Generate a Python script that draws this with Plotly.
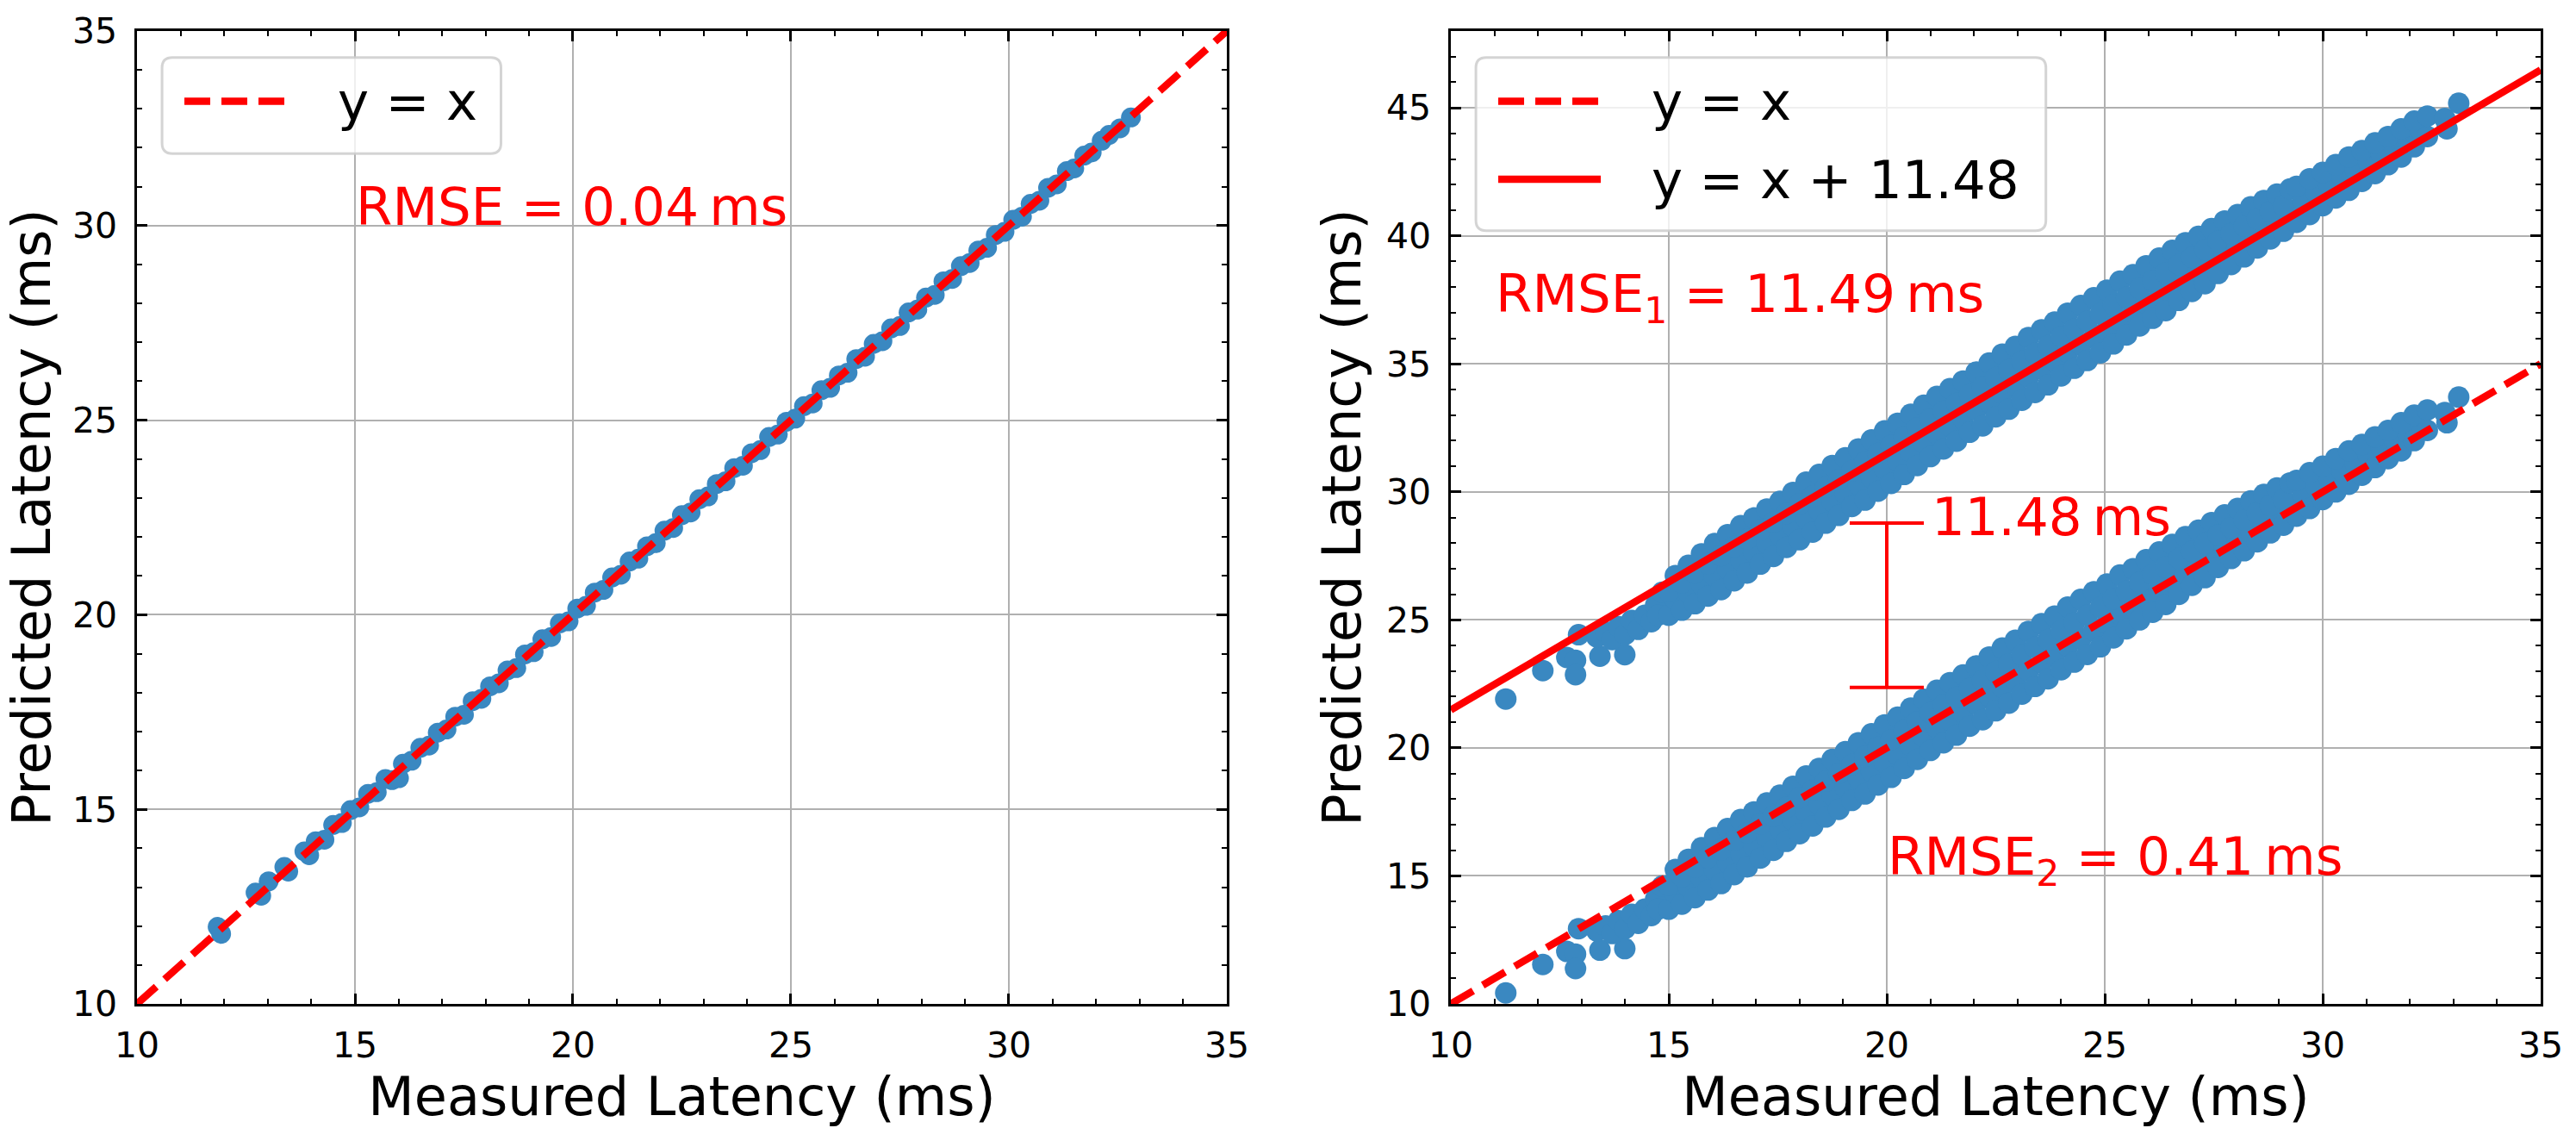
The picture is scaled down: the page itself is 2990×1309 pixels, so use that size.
import plotly.graph_objects as go
from plotly.subplots import make_subplots

FONT = "DejaVu Sans"
BLUE = "#3a88c1"
RED = "#ff0000"

# ---- left panel: measured vs predicted latency (ms) ----
left_measured = [
    11.85, 11.93, 12.72, 12.85, 13.02, 13.38, 13.47, 13.84, 13.95, 14.1,
    14.3, 14.5, 14.7, 14.9, 15.1, 15.3, 15.5, 15.7, 15.85, 16.01,
    16.1, 16.3, 16.5, 16.7, 16.9, 17.1, 17.3, 17.5, 17.7, 17.9,
    18.1, 18.3, 18.5, 18.7, 18.9, 19.1, 19.3, 19.5, 19.7, 19.9,
    20.1, 20.3, 20.5, 20.7, 20.9, 21.1, 21.3, 21.5, 21.7, 21.9,
    22.1, 22.3, 22.5, 22.7, 22.9, 23.1, 23.3, 23.5, 23.7, 23.9,
    24.1, 24.3, 24.5, 24.7, 24.9, 25.1, 25.3, 25.5, 25.7, 25.9,
    26.1, 26.3, 26.5, 26.7, 26.9, 27.1, 27.3, 27.5, 27.7, 27.9,
    28.1, 28.3, 28.5, 28.7, 28.9, 29.1, 29.3, 29.5, 29.7, 29.9,
    30.1, 30.3, 30.5, 30.7, 30.9, 31.1, 31.33, 31.5, 31.73, 31.9,
    32.13, 32.3, 32.55, 32.8,
]
left_predicted = [
    11.98, 11.8, 12.86, 12.78, 13.15, 13.52, 13.4, 13.92, 13.82, 14.18,
    14.22, 14.6, 14.65, 14.98, 15.05, 15.4, 15.44, 15.78, 15.75, 15.8,
    16.17, 16.25, 16.58, 16.64, 16.97, 17.05, 17.38, 17.43, 17.78, 17.84,
    18.16, 18.24, 18.57, 18.63, 18.98, 19.04, 19.37, 19.43, 19.78, 19.83,
    20.16, 20.23, 20.57, 20.64, 20.96, 21.03, 21.37, 21.44, 21.76, 21.84,
    22.16, 22.23, 22.56, 22.63, 22.97, 23.04, 23.36, 23.43, 23.77, 23.83,
    24.15, 24.23, 24.57, 24.63, 24.96, 25.04, 25.36, 25.43, 25.77, 25.83,
    26.15, 26.22, 26.57, 26.63, 26.96, 27.03, 27.36, 27.42, 27.77, 27.84,
    28.15, 28.22, 28.57, 28.63, 28.96, 29.04, 29.36, 29.43, 29.76, 29.84,
    30.15, 30.23, 30.56, 30.64, 30.97, 31.06, 31.4, 31.47, 31.8, 31.88,
    32.18, 32.33, 32.5, 32.78,
]

# ---- right panel: same measurements, raw and bias-corrected predictions ----
right_measured = [
    11.26, 12.11, 12.66, 12.86, 12.86, 12.93, 13.42, 13.99, 13.35, 13.55,
    13.7, 13.85, 14.0, 14.15, 14.3, 14.45, 14.6, 14.7, 14.75, 14.85,
    15.0, 15.15, 15.0, 15.15,
    15.3, 15.45, 15.3, 15.45,
    15.6, 15.75, 15.6, 15.75,
    15.9, 16.05, 15.9, 16.05,
    16.2, 16.35, 16.2, 16.35,
    16.5, 16.65, 16.5, 16.65,
    16.8, 16.95, 16.8, 16.95,
    17.1, 17.25, 17.1, 17.25,
    17.4, 17.55, 17.4, 17.55,
    17.7, 17.85, 17.7, 17.85,
    18.0, 18.15, 18.0, 18.15,
    18.3, 18.45, 18.3, 18.45,
    18.6, 18.75, 18.6, 18.75,
    18.9, 19.05, 18.9, 19.05,
    19.2, 19.35, 19.2, 19.35,
    19.5, 19.65, 19.5, 19.65,
    19.8, 19.95, 19.8, 19.95,
    20.1, 20.25, 20.1, 20.25,
    20.4, 20.55, 20.4, 20.55,
    20.7, 20.85, 20.7, 20.85,
    21.0, 21.15, 21.0, 21.15,
    21.3, 21.45, 21.3, 21.45,
    21.6, 21.75, 21.6, 21.75,
    21.9, 22.05, 21.9, 22.05,
    22.2, 22.35, 22.2, 22.35,
    22.5, 22.65, 22.5, 22.65,
    22.8, 22.95, 22.8, 22.95,
    23.1, 23.25, 23.1, 23.25,
    23.4, 23.55, 23.4, 23.55,
    23.7, 23.85, 23.7, 23.85,
    24.0, 24.15, 24.0, 24.15,
    24.3, 24.45, 24.3, 24.45,
    24.6, 24.75, 24.6, 24.75,
    24.9, 25.05, 24.9, 25.05,
    25.2, 25.35, 25.2, 25.35,
    25.5, 25.65, 25.5, 25.65,
    25.8, 25.95, 25.8, 25.95,
    26.1, 26.25, 26.1, 26.25,
    26.4, 26.55, 26.4, 26.55,
    26.7, 26.85, 26.7, 26.85,
    27.0, 27.15, 27.0, 27.15,
    27.3, 27.45, 27.3, 27.45,
    27.6, 27.75, 27.6, 27.75,
    27.9, 28.05, 27.9, 28.05,
    28.2, 28.35, 28.2, 28.35,
    28.5, 28.65, 28.5, 28.65,
    28.8, 28.95, 28.8, 28.95,
    29.1, 29.25, 29.1, 29.25,
    29.4, 29.55, 29.4,
    29.7, 29.85, 29.7,
    30.0, 30.15, 30.0,
    30.3, 30.45, 30.3,
    30.6, 30.75, 30.6,
    30.9, 31.05, 30.9,
    31.2, 31.35, 31.2,
    31.5, 31.65, 31.5,
    31.8, 31.95, 31.8,
    32.1, 32.25, 32.1,
    32.4, 32.4, 32.85, 32.8, 33.12,
]
right_pred_raw = [
    21.91, 23.02, 23.53, 23.42, 22.86, 24.42, 23.58, 23.64, 24.33, 24.53,
    24.23, 24.73, 24.43, 24.98, 24.63, 25.18, 24.93, 25.58, 25.18, 26.08,
    25.18, 25.8, 26.11, 26.73,
    25.38, 26.06, 26.45, 27.13,
    25.63, 26.38, 26.83, 27.58,
    25.93, 26.71, 27.2, 27.98,
    26.18, 27.0, 27.51, 28.33,
    26.53, 27.35, 27.86, 28.68,
    26.83, 27.65, 28.16, 28.98,
    27.18, 28.0, 28.51, 29.33,
    27.48, 28.3, 28.81, 29.63,
    27.83, 28.65, 29.16, 29.98,
    28.13, 28.98, 29.53, 30.38,
    28.43, 29.28, 29.83, 30.68,
    28.78, 29.63, 30.18, 31.03,
    29.08, 29.93, 30.48, 31.33,
    29.43, 30.28, 30.83, 31.68,
    29.68, 30.56, 31.15, 32.03,
    30.03, 30.91, 31.5, 32.38,
    30.33, 31.21, 31.8, 32.68,
    30.68, 31.56, 32.15, 33.03,
    31.03, 31.91, 32.5, 33.38,
    31.38, 32.26, 32.85, 33.73,
    31.68, 32.56, 33.15, 34.03,
    31.98, 32.86, 33.45, 34.33,
    32.33, 33.21, 33.8, 34.68,
    32.58, 33.5, 34.11, 35.03,
    32.93, 33.85, 34.46, 35.38,
    33.23, 34.15, 34.76, 35.68,
    33.58, 34.5, 35.11, 36.03,
    33.88, 34.8, 35.41, 36.33,
    34.18, 35.1, 35.71, 36.63,
    34.53, 35.45, 36.06, 36.98,
    34.83, 35.75, 36.36, 37.28,
    35.13, 36.05, 36.66, 37.58,
    35.43, 36.35, 36.96, 37.88,
    35.78, 36.7, 37.31, 38.23,
    36.13, 37.01, 37.6, 38.48,
    36.48, 37.36, 37.95, 38.83,
    36.78, 37.66, 38.25, 39.13,
    37.08, 37.96, 38.55, 39.43,
    37.48, 38.33, 38.88, 39.73,
    37.83, 38.65, 39.16, 39.98,
    38.13, 38.95, 39.46, 40.28,
    38.53, 39.31, 39.8, 40.58,
    38.88, 39.63, 40.08, 40.83,
    39.18, 39.93, 40.38, 41.13,
    39.53, 40.25, 40.66, 41.38,
    39.88, 40.56, 40.95, 41.63,
    40.18, 40.83, 41.18, 41.83,
    40.53, 41.38, 41.93,
    40.83, 41.68, 42.23,
    41.18, 41.98, 42.48,
    41.48, 42.28, 42.78,
    41.78, 42.58, 43.08,
    42.13, 42.88, 43.33,
    42.43, 43.18, 43.63,
    42.78, 43.48, 43.88,
    43.08, 43.78, 44.18,
    43.48, 44.13, 44.48,
    43.88, 44.68, 44.18, 44.58, 45.18,
]
right_pred_corrected = [
    10.43, 11.54, 12.05, 11.94, 11.38, 12.94, 12.1, 12.16, 12.85, 13.05,
    12.75, 13.25, 12.95, 13.5, 13.15, 13.7, 13.45, 14.1, 13.7, 14.6,
    13.7, 14.32, 14.63, 15.25,
    13.9, 14.58, 14.97, 15.65,
    14.15, 14.9, 15.35, 16.1,
    14.45, 15.23, 15.72, 16.5,
    14.7, 15.52, 16.03, 16.85,
    15.05, 15.87, 16.38, 17.2,
    15.35, 16.17, 16.68, 17.5,
    15.7, 16.52, 17.03, 17.85,
    16.0, 16.82, 17.33, 18.15,
    16.35, 17.17, 17.68, 18.5,
    16.65, 17.5, 18.05, 18.9,
    16.95, 17.8, 18.35, 19.2,
    17.3, 18.15, 18.7, 19.55,
    17.6, 18.45, 19.0, 19.85,
    17.95, 18.8, 19.35, 20.2,
    18.2, 19.08, 19.67, 20.55,
    18.55, 19.43, 20.02, 20.9,
    18.85, 19.73, 20.32, 21.2,
    19.2, 20.08, 20.67, 21.55,
    19.55, 20.43, 21.02, 21.9,
    19.9, 20.78, 21.37, 22.25,
    20.2, 21.08, 21.67, 22.55,
    20.5, 21.38, 21.97, 22.85,
    20.85, 21.73, 22.32, 23.2,
    21.1, 22.02, 22.63, 23.55,
    21.45, 22.37, 22.98, 23.9,
    21.75, 22.67, 23.28, 24.2,
    22.1, 23.02, 23.63, 24.55,
    22.4, 23.32, 23.93, 24.85,
    22.7, 23.62, 24.23, 25.15,
    23.05, 23.97, 24.58, 25.5,
    23.35, 24.27, 24.88, 25.8,
    23.65, 24.57, 25.18, 26.1,
    23.95, 24.87, 25.48, 26.4,
    24.3, 25.22, 25.83, 26.75,
    24.65, 25.53, 26.12, 27.0,
    25.0, 25.88, 26.47, 27.35,
    25.3, 26.18, 26.77, 27.65,
    25.6, 26.48, 27.07, 27.95,
    26.0, 26.85, 27.4, 28.25,
    26.35, 27.17, 27.68, 28.5,
    26.65, 27.47, 27.98, 28.8,
    27.05, 27.83, 28.32, 29.1,
    27.4, 28.15, 28.6, 29.35,
    27.7, 28.45, 28.9, 29.65,
    28.05, 28.77, 29.18, 29.9,
    28.4, 29.08, 29.47, 30.15,
    28.7, 29.35, 29.7, 30.35,
    29.05, 29.9, 30.45,
    29.35, 30.2, 30.75,
    29.7, 30.5, 31.0,
    30.0, 30.8, 31.3,
    30.3, 31.1, 31.6,
    30.65, 31.4, 31.85,
    30.95, 31.7, 32.15,
    31.3, 32.0, 32.4,
    31.6, 32.3, 32.7,
    32.0, 32.65, 33.0,
    32.4, 33.2, 32.7, 33.1, 33.7,
]

# reference lines y = x and y = x + 11.48
line_x = [10, 35]
identity_y = [10, 35]
offset_y = [21.48, 46.48]

# bracket showing the 11.48 ms shift
shift_x = [20]
shift_mid = [25.57]
shift_half = [3.21]

DASH = "30px,13px"

fig = make_subplots(rows=1, cols=2)

fig.add_trace(go.Scatter(x=left_measured, y=left_predicted, mode="markers",
                         marker=dict(color=BLUE, size=23, line=dict(width=0))), row=1, col=1)
fig.add_trace(go.Scatter(x=line_x, y=identity_y, mode="lines",
                         line=dict(color=RED, width=8.5, dash=DASH)), row=1, col=1)

fig.add_trace(go.Scatter(x=right_measured, y=right_pred_raw, mode="markers",
                         marker=dict(color=BLUE, size=25, line=dict(width=0))), row=1, col=2)
fig.add_trace(go.Scatter(x=right_measured, y=right_pred_corrected, mode="markers",
                         marker=dict(color=BLUE, size=25, line=dict(width=0))), row=1, col=2)
fig.add_trace(go.Scatter(x=line_x, y=identity_y, mode="lines",
                         line=dict(color=RED, width=8.5, dash=DASH)), row=1, col=2)
fig.add_trace(go.Scatter(x=line_x, y=offset_y, mode="lines",
                         line=dict(color=RED, width=8.5)), row=1, col=2)
fig.add_trace(go.Scatter(x=shift_x, y=shift_mid, mode="markers", marker=dict(opacity=0),
                         error_y=dict(type="data", array=shift_half, color=RED,
                                      thickness=4, width=43)), row=1, col=2)

axis_style = dict(
    showline=True, linecolor="black", linewidth=2.5, mirror="allticks",
    ticks="inside", ticklen=12.5, tickwidth=2.5, tickcolor="black",
    showgrid=True, gridcolor="#b0b0b0", gridwidth=2, zeroline=False,
    tickfont=dict(size=41, color="black", family=FONT),
    tick0=10, dtick=5,
    minor=dict(ticks="inside", ticklen=6.5, tickwidth=2, tickcolor="black",
               dtick=1, showgrid=False),
)
title_font = dict(size=62, color="black", family=FONT)

fig.update_xaxes(axis_style)
fig.update_yaxes(axis_style)
fig.update_xaxes(range=[10, 35], ticklabelstandoff=10,
                 title=dict(text="Measured Latency (ms)", font=title_font, standoff=0))
fig.update_yaxes(ticklabelstandoff=12,
                 title=dict(text="Predicted Latency (ms)", font=title_font, standoff=10))
fig.update_layout(
    xaxis=dict(domain=[0, 0.4534]),
    xaxis2=dict(domain=[0.5466, 1.0]),
    yaxis=dict(domain=[0, 1], range=[10, 35]),
    yaxis2=dict(domain=[0, 1], range=[10, 48]),
)


def rounded_box(x0, y0, x1, y1, rx=0.0095, ry=0.0106):
    return (f"M{x0 + rx},{y0} L{x1 - rx},{y0} Q{x1},{y0} {x1},{y0 + ry} "
            f"L{x1},{y1 - ry} Q{x1},{y1} {x1 - rx},{y1} L{x0 + rx},{y1} "
            f"Q{x0},{y1} {x0},{y1 - ry} L{x0},{y0 + ry} Q{x0},{y0} {x0 + rx},{y0} Z")


shapes = []
annotations = []
legend_font = dict(size=61, color="black", family=FONT)
note_font = dict(size=61, color=RED, family=FONT)

# legend boxes (drawn by hand to get matplotlib-like handles)
for xa, ya, bottom in (("x", "y", 0.874), ("x2", "y2", 0.7947)):
    right = 0.334 if xa == "x" else 0.546
    shapes.append(dict(type="path", xref=f"{xa} domain", yref=f"{ya} domain",
                       path=rounded_box(0.023, bottom, right, 0.9727),
                       fillcolor="rgba(255,255,255,0.8)",
                       line=dict(color="rgba(204,204,204,0.85)", width=3)))
    shapes.append(dict(type="line", xref=f"{xa} domain", yref=f"{ya} domain",
                       x0=0.0435, x1=0.1376, y0=0.9278, y1=0.9278,
                       line=dict(color=RED, width=8.5, dash=DASH)))
    annotations.append(dict(text="y = x", xref=f"{xa} domain", yref=f"{ya} domain",
                            x=0.1834, y=0.9278, xanchor="left", yanchor="middle",
                            showarrow=False, font=legend_font, borderpad=0))

shapes.append(dict(type="line", xref="x2 domain", yref="y2 domain",
                   x0=0.0435, x1=0.1376, y0=0.8476, y1=0.8476,
                   line=dict(color=RED, width=8.5)))
annotations.append(dict(text="y = x + 11.48", xref="x2 domain", yref="y2 domain",
                        x=0.1834, y=0.8476, xanchor="left", yanchor="middle",
                        showarrow=False, font=legend_font, borderpad=0))

# RMSE notes
annotations += [
    dict(text="RMSE = 0.04\u2009ms", xref="x", yref="y", x=15, y=30,
         xanchor="left", yanchor="bottom", yshift=-14, showarrow=False,
         font=note_font, borderpad=0),
    dict(text="RMSE<sub>1</sub> = 11.49\u2009ms", xref="x2", yref="y2", x=11, y=37,
         xanchor="left", yanchor="bottom", yshift=-23, showarrow=False,
         font=note_font, borderpad=0),
    dict(text="RMSE<sub>2</sub> = 0.41\u2009ms", xref="x2", yref="y2", x=20, y=15,
         xanchor="left", yanchor="bottom", yshift=-23, showarrow=False,
         font=note_font, borderpad=0),
    dict(text="11.48\u2009ms", xref="x2", yref="y2", x=21, y=29.05,
         xanchor="left", yanchor="middle", showarrow=False,
         font=note_font, borderpad=0),
]

fig.update_layout(
    width=2990, height=1309,
    margin=dict(l=159, r=41, t=30, b=144),
    paper_bgcolor="white", plot_bgcolor="white",
    font=dict(family=FONT, color="black"),
    showlegend=False,
    shapes=shapes,
    annotations=annotations,
)

fig.write_html("out.html", config={"displayModeBar": False},
               post_script="document.body.style.margin='0px';")
